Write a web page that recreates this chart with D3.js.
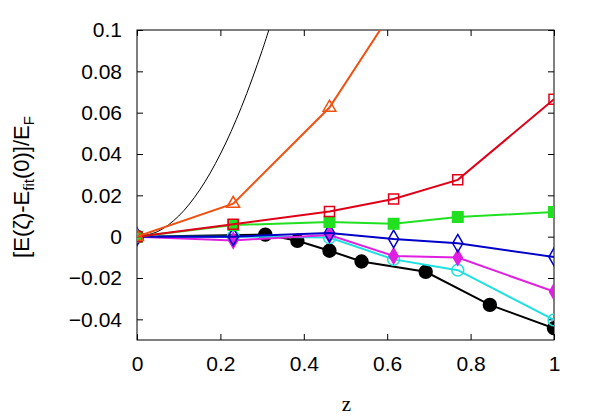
<!DOCTYPE html>
<html>
<head>
<meta charset="utf-8">
<script src="https://cdn.jsdelivr.net/npm/d3@7"></script>
<style>
  body { margin: 0; background: #fff; }
  svg { display: block; }
</style>
</head>
<body>
<div id="chart"></div>
<script>
// data (z = k/13)
const zCurve = [0, 0.05, 0.1, 0.15, 0.2, 0.25, 0.3, 0.33];
const eCurve = [0, 0.0025, 0.01, 0.0225, 0.04, 0.0625, 0.09, 0.109];

const zTri = [0, 3/13, 6/13, 8/13];
const eTri = [0, 0.016, 0.0625, 0.11];

const zSet = [0, 3/13, 6/13, 8/13, 10/13, 1];
const eRed = [0, 0.006, 0.0122, 0.0182, 0.0275, 0.0665];
const eGreen = [0, 0.0056, 0.0071, 0.0063, 0.0095, 0.0119];
const eBlue = [0, 0, 0.0018, -0.0011, -0.0032, -0.0098];
const eMagenta = [0, -0.0018, 0.0008, -0.0093, -0.0101, -0.0266];
const eCyan = [0, 0, -0.0004, -0.011, -0.0162, -0.0403];

const zBlack = [0, 4/13, 5/13, 6/13, 7/13, 9/13, 11/13, 1];
const eBlack = [0, 0.001, -0.002, -0.0068, -0.012, -0.017, -0.033, -0.0443];

const xTicks = [0, 0.2, 0.4, 0.6, 0.8, 1];
const yTicks = [-0.04, -0.02, 0, 0.02, 0.04, 0.06, 0.08, 0.1];

const width = 600, height = 420;
const margin = { left: 137, right: 46, top: 30, bottom: 80 };
const innerW = width - margin.left - margin.right;
const innerH = height - margin.top - margin.bottom;

const svg = d3.select("#chart").append("svg")
    .attr("width", width)
    .attr("height", height);

const x = d3.scaleLinear().domain([0, 1]).range([0, innerW]);
const y = d3.scaleLinear().domain([-0.05, 0.1]).range([innerH, 0]);

const g = svg.append("g").attr("transform", `translate(${margin.left},${margin.top})`);

svg.append("defs").append("clipPath").attr("id", "plot-clip")
  .append("rect").attr("width", innerW).attr("height", innerH);

// axes with inward ticks, mirrored on top and right
const tickFont = "'Liberation Sans', Arial, sans-serif";
function styleAxis(sel) {
    sel.select(".domain").remove();
    sel.selectAll("line").attr("stroke", "black");
    sel.selectAll("text").attr("fill", "black")
        .style("font-family", tickFont).style("font-size", "21px");
}

g.append("g").attr("transform", `translate(0,${innerH})`)
    .call(d3.axisBottom(x).tickValues(xTicks).tickFormat(d3.format("~g")).tickSize(-6).tickPadding(16))
    .call(styleAxis);
g.append("g")
    .call(d3.axisTop(x).tickValues(xTicks).tickSize(-6).tickFormat(""))
    .call(styleAxis);
g.append("g")
    .call(d3.axisLeft(y).tickValues(yTicks).tickFormat(d3.format("~g")).tickSize(-6).tickPadding(15))
    .call(styleAxis);
g.append("g").attr("transform", `translate(${innerW},0)`)
    .call(d3.axisRight(y).tickValues(yTicks).tickSize(-6).tickFormat(""))
    .call(styleAxis);

g.append("rect")
    .attr("width", innerW).attr("height", innerH)
    .attr("fill", "none").attr("stroke", "black").attr("stroke-width", 1);

const plot = g.append("g").attr("clip-path", "url(#plot-clip)");

// thin reference curve
plot.append("path")
    .datum(zCurve.map((z, i) => [z, eCurve[i]]))
    .attr("fill", "none").attr("stroke", "black").attr("stroke-width", 1)
    .attr("d", d3.line().x(d => x(d[0])).y(d => y(d[1])).curve(d3.curveCatmullRom));

const series = [
    { zs: zBlack, es: eBlack, color: "#000000", symbol: d3.symbolCircle, size: 130, filled: true },
    { zs: zSet, es: eCyan, color: "#1ee0e0", symbol: d3.symbolCircle, size: 110, filled: false },
    { zs: zSet, es: eMagenta, color: "#e020e0", symbol: d3.symbolDiamond, size: 70, filled: true },
    { zs: zSet, es: eBlue, color: "#0000c8", symbol: d3.symbolDiamond, size: 90, filled: false },
    { zs: zSet, es: eGreen, color: "#20e020", symbol: d3.symbolSquare, size: 110, filled: true },
    { zs: zSet, es: eRed, color: "#e00018", symbol: d3.symbolSquare, size: 100, filled: false },
    { zs: zTri, es: eTri, color: "#f05010", symbol: d3.symbolTriangle, size: 70, filled: false }
];

const line = d3.line().x(d => x(d[0])).y(d => y(d[1]));

series.forEach(s => {
    const pts = s.zs.map((z, i) => [z, s.es[i]]);
    plot.append("path")
        .datum(pts)
        .attr("fill", "none").attr("stroke", s.color).attr("stroke-width", 2)
        .attr("d", line);
    plot.selectAll(null)
        .data(pts.filter(d => d[1] <= 0.1))
        .enter()
        .append("path")
          .attr("transform", d => `translate(${x(d[0])},${y(d[1])})`)
          .attr("d", d3.symbol().type(s.symbol).size(s.size))
          .attr("fill", s.filled ? s.color : "none")
          .attr("stroke", s.color)
          .attr("stroke-width", 1.5);
});

// axis labels
svg.append("text")
    .attr("x", margin.left + innerW / 2 + 1)
    .attr("y", 411)
    .attr("text-anchor", "middle")
    .style("font-family", "'Liberation Serif', 'Times New Roman', serif")
    .style("font-size", "21px")
    .text("z");

const ylab = svg.append("text")
    .attr("transform", "translate(29,187) rotate(-90)")
    .attr("text-anchor", "middle")
    .style("font-family", tickFont)
    .style("font-size", "22px");
ylab.append("tspan").text("[E(ζ)-E");
ylab.append("tspan").attr("dy", 5).style("font-size", "15px").text("fit");
ylab.append("tspan").attr("dy", -5).text("(0)]/E");
ylab.append("tspan").attr("dy", 5).style("font-size", "15px").text("F");
</script>
</body>
</html>
